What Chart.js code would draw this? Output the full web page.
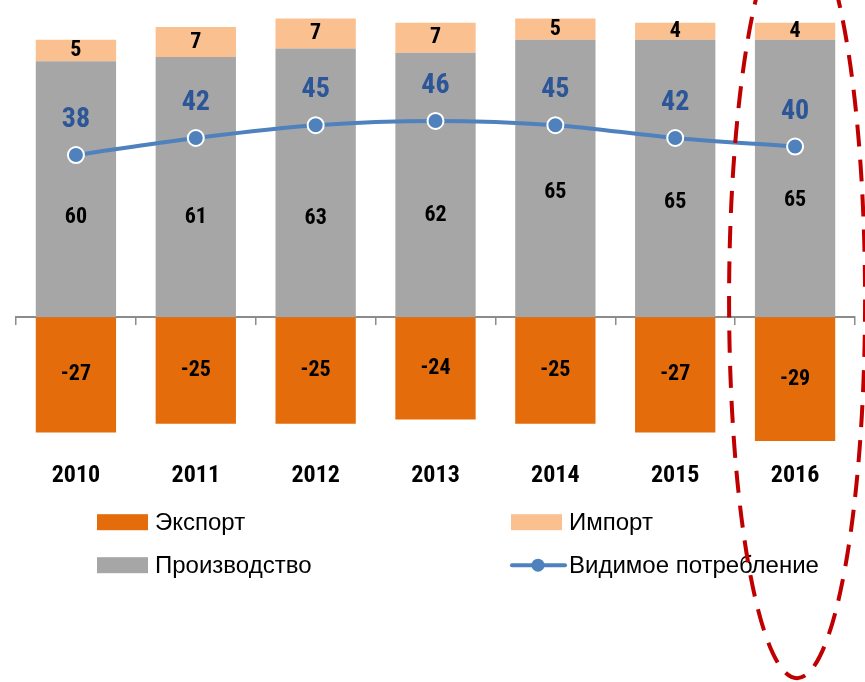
<!DOCTYPE html>
<html>
<head>
<meta charset="utf-8">
<script src="https://cdn.jsdelivr.net/npm/chart.js@4/dist/chart.umd.min.js"></script>
<style>
  html, body { margin: 0; padding: 0; background: #fff; }
  #wrap { width: 865px; height: 682px; }
</style>
</head>
<body>
<div id="wrap"><canvas id="chart" width="865" height="682"></canvas></div>
<script>
// datos del grafico
const years = ['2010', '2011', '2012', '2013', '2014', '2015', '2016'];
const exportVals = [-27, -25, -25, -24, -25, -27, -29];
const productionVals = [60, 61, 63, 62, 65, 65, 65];
const importVals = [5, 7, 7, 7, 5, 4, 4];
const consumptionVals = [38, 42, 45, 46, 45, 42, 40];

// desplazamiento vertical de las etiquetas de produccion (px)
const prodLabelShift = [28, 30, 36, 31, 14, 24, 22];

const narrow = '"Liberation Sans Narrow", "Arial Narrow", "Roboto Condensed", "Liberation Sans", sans-serif';
const regular = '"Liberation Sans", Arial, sans-serif';

const colors = {
  export: '#E46C0A',
  production: '#A6A6A6',
  import: '#FAC090',
  line: '#4F81BD',
  lineLabel: '#2C5697',
  axis: '#8C8C8C',
  ring: '#C00000'
};

//etiquetas de valores sobre las barras y la linea
const valueLabels = {
  id: 'valueLabels',
  afterDatasetsDraw(chart) {
    const ctx = chart.ctx;
    ctx.save();
    ctx.textAlign = 'center';
    ctx.textBaseline = 'middle';
    chart.data.datasets.forEach((ds, i) => {
      const meta = chart.getDatasetMeta(i);
      meta.data.forEach((el, j) => {
        const v = ds.data[j];
        if (ds.type === 'line') {
          ctx.font = 'bold 28px ' + narrow;
          ctx.fillStyle = colors.lineLabel;
          ctx.fillText(String(v), el.x, el.y - 35);
        } else {
          ctx.font = 'bold 22px ' + narrow;
          ctx.fillStyle = '#000';
          let y = (el.y + el.base) / 2;
          if (ds.key === 'production') y += prodLabelShift[j];
          ctx.fillText(String(v), el.x, y);
        }
      });
    });
    ctx.restore();
  }
};

//leyenda en dos columnas
const gridLegend = {
  id: 'gridLegend',
  afterDraw(chart) {
    const ctx = chart.ctx;
    const area = chart.chartArea;
    const cols = [97, 511];
    const rows = [area.bottom + 77, area.bottom + 120];
    const slots = { export: [0, 0], import: [1, 0], production: [0, 1], consumption: [1, 1] };
    ctx.save();
    ctx.font = '24px ' + regular;
    ctx.textBaseline = 'middle';
    ctx.textAlign = 'left';
    chart.data.datasets.forEach(ds => {
      const s = slots[ds.key];
      const x = cols[s[0]];
      const y = rows[s[1]];
      if (ds.type === 'line') {
        ctx.strokeStyle = ds.borderColor;
        ctx.lineWidth = 4;
        ctx.lineCap = 'round';
        ctx.beginPath();
        ctx.moveTo(x + 1, y);
        ctx.lineTo(x + 54, y);
        ctx.stroke();
        ctx.beginPath();
        ctx.arc(x + 27, y, 6.5, 0, Math.PI * 2);
        ctx.fillStyle = ds.pointBackgroundColor;
        ctx.fill();
      } else {
        ctx.fillStyle = ds.backgroundColor;
        ctx.fillRect(x, y - 8, 51, 16);
      }
      ctx.fillStyle = '#000';
      ctx.fillText(ds.label, x + 58, y + 1);
    });
    ctx.restore();
  }
};

//ovalo rojo punteado alrededor de 2016
const ring = {
  id: 'ring',
  afterDraw(chart) {
    const ctx = chart.ctx;
    const xs = chart.scales.x;
    const cx = xs.getPixelForValue(years.length - 1) + 2;
    const cy = chart.scales.y.getPixelForValue(4);
    ctx.save();
    ctx.strokeStyle = colors.ring;
    ctx.lineWidth = 4;
    ctx.setLineDash([22, 13]);
    ctx.beginPath();
    ctx.ellipse(cx, cy, 68, 378, 0, 0, Math.PI * 2);
    ctx.stroke();
    ctx.restore();
  }
};

const ctx = document.getElementById('chart');
const chart = new Chart(ctx, {
  data: {
    labels: years,
    datasets: [
      {
        type: 'bar', key: 'export', label: 'Экспорт', data: exportVals,
        backgroundColor: colors.export, stack: 'bars', order: 2
      },
      {
        type: 'bar', key: 'production', label: 'Производство', data: productionVals,
        backgroundColor: colors.production, stack: 'bars', order: 2
      },
      {
        type: 'bar', key: 'import', label: 'Импорт', data: importVals,
        backgroundColor: colors.import, stack: 'bars', order: 2
      },
      {
        type: 'line', key: 'consumption', label: 'Видимое потребление', data: consumptionVals,
        stack: 'line', order: 1,
        borderColor: colors.line, borderWidth: 4, tension: 0.35,
        pointRadius: 8, pointHoverRadius: 8, pointBorderWidth: 2,
        pointBackgroundColor: colors.line, pointBorderColor: '#fff'
      }
    ]
  },
  options: {
    responsive: false,
    animation: false,
    events: [],
    layout: { padding: { top: 6, left: 16, right: 4, bottom: 176 } },
    datasets: { bar: { barPercentage: 0.67, categoryPercentage: 1 } },
    plugins: {
      legend: { display: false },
      tooltip: { enabled: false }
    },
    scales: {
      x: {
        stacked: true,
        offset: true,
        grid: { display: false, drawTicks: false },
        border: { display: false },
        ticks: {
          padding: 16,
          color: '#000',
          font: { family: narrow, size: 24, weight: 'bold' }
        }
      },
      xZero: {
        type: 'category',
        position: { y: 0 },
        offset: true,
        z: 1,
        grid: { offset: true, drawOnChartArea: false, tickLength: 7, color: colors.axis, lineWidth: 1.5 },
        border: { color: colors.axis, width: 2 },
        ticks: { display: false }
      },
      y: {
        stacked: true,
        min: -30,
        max: 72,
        display: false
      }
    }
  },
  plugins: [valueLabels, gridLegend, ring]
});
</script>
</body>
</html>
